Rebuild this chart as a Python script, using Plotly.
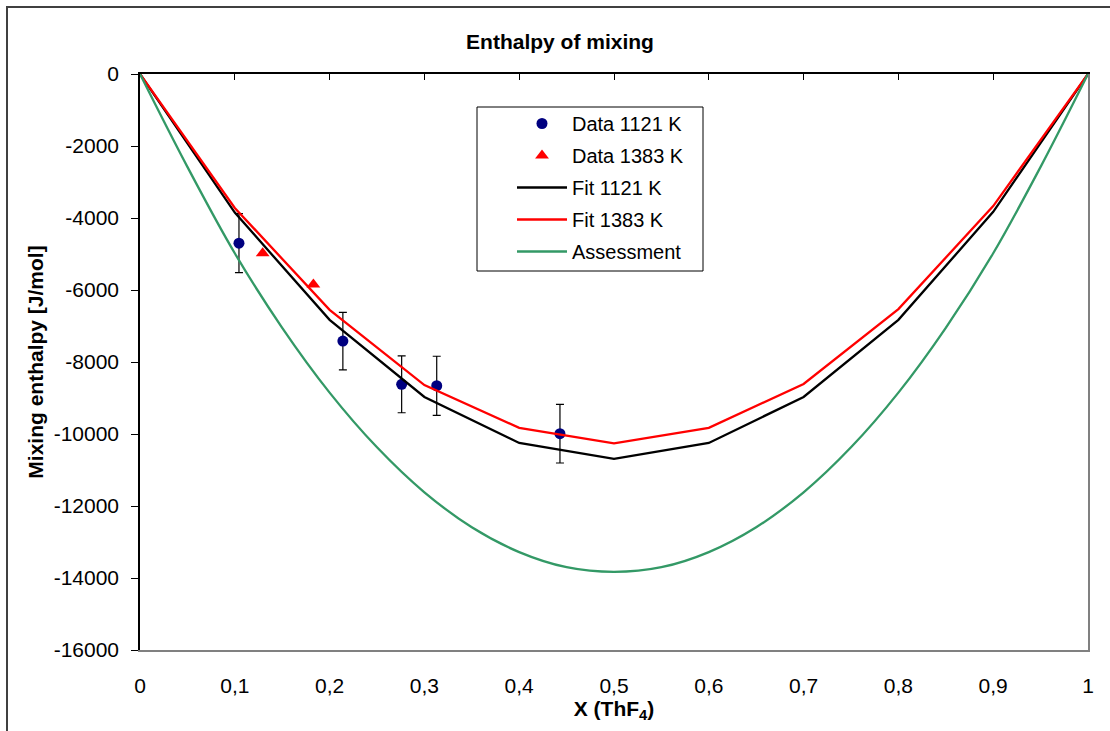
import plotly.graph_objects as go

# ---- data ----
x_fit = [0, 0.1, 0.2, 0.3, 0.4, 0.5, 0.6, 0.7, 0.8, 0.9, 1.0]
fit_1121 = [0, -3850, -6830, -8970, -10250, -10690, -10250, -8970, -6830, -3830, 0]
fit_1383 = [0, -3720, -6550, -8640, -9830, -10260, -9830, -8610, -6530, -3670, 0]

x_assess = [0, 0.05, 0.1, 0.15, 0.2, 0.25, 0.3, 0.35, 0.4, 0.45, 0.5,
            0.55, 0.6, 0.65, 0.7, 0.75, 0.8, 0.85, 0.9, 0.95, 1.0]
assess = [0, -2580, -4980, -7050, -8850, -10370, -11620, -12590, -13280, -13700, -13830,
          -13700, -13280, -12590, -11620, -10370, -8850, -7050, -4980, -2580, 0]

x_data_1121 = [0.1044, 0.214, 0.276, 0.313, 0.443]
y_data_1121 = [-4700, -7420, -8620, -8660, -9990]
err_1121 = [820, 800, 790, 820, 815]

x_data_1383 = [0.1294, 0.1829]
y_data_1383 = [-4980, -5850]

x_ticks = [0, 0.1, 0.2, 0.3, 0.4, 0.5, 0.6, 0.7, 0.8, 0.9, 1.0]
x_ticktext = ["0", "0,1", "0,2", "0,3", "0,4", "0,5", "0,6", "0,7", "0,8", "0,9", "1"]
y_ticks = [0, -2000, -4000, -6000, -8000, -10000, -12000, -14000, -16000]
y_ticktext = ["0", "-2000", "-4000", "-6000", "-8000", "-10000", "-12000", "-14000", "-16000"]

FONT = "Liberation Sans, Arial, sans-serif"

fig = go.Figure()
fig.add_trace(go.Scatter(
    x=x_data_1121, y=y_data_1121, mode="markers", name="Data 1121 K",
    marker=dict(color="#000080", size=11, symbol="circle"),
    error_y=dict(type="data", array=err_1121, color="black", thickness=1.2, width=4),
    legendgroup="a"))
fig.add_trace(go.Scatter(
    x=x_data_1383, y=y_data_1383, mode="markers", name="Data 1383 K",
    marker=dict(color="#ff0000", size=12, symbol="triangle-up"),
    legendgroup="b"))
fig.add_trace(go.Scatter(
    x=x_fit, y=fit_1121, mode="lines", name="Fit 1121 K",
    line=dict(color="black", width=2.3), legendgroup="c"))
fig.add_trace(go.Scatter(
    x=x_fit, y=fit_1383, mode="lines", name="Fit 1383 K",
    line=dict(color="#ff0000", width=2.3), legendgroup="d"))
fig.add_trace(go.Scatter(
    x=x_assess, y=assess, mode="lines", name="Assessment",
    line=dict(color="#339966", width=2.3, shape="spline"), legendgroup="e"))
# helper traces for the top (zero-line) axis and right border
fig.add_trace(go.Scatter(x=[0, 1], y=[0, 0], xaxis="x2", yaxis="y", mode="lines",
                         line=dict(width=0), showlegend=False, hoverinfo="skip"))
fig.add_trace(go.Scatter(x=[0, 1], y=[0, 0], xaxis="x", yaxis="y2", mode="lines",
                         line=dict(width=0), showlegend=False, hoverinfo="skip"))

fig.update_layout(
    width=1110, height=731,
    margin=dict(l=140, r=22, t=74, b=81),
    paper_bgcolor="white", plot_bgcolor="white",
    font=dict(family=FONT, size=21, color="black"),
    title=dict(text="<b>Enthalpy of mixing</b>", x=(560 - 140) / 948, xref="paper",
               xanchor="center", y=1 - 42 / 731, yanchor="middle",
               font=dict(size=21)),
    xaxis=dict(range=[0, 1], tickvals=x_ticks, ticktext=x_ticktext,
               showline=True, linecolor="#808080", linewidth=1.5,
               ticks="", showgrid=False, zeroline=False,
               ticklabelstandoff=16,
               title=dict(text="<b>X (ThF<sub>4</sub>)</b>", standoff=1,
                          font=dict(size=21))),
    xaxis2=dict(range=[0, 1], overlaying="x", side="top", tickvals=x_ticks,
                showticklabels=False, ticks="inside", ticklen=6, tickcolor="black",
                showline=True, linecolor="black", linewidth=1.5, showgrid=False,
                zeroline=False),
    yaxis=dict(range=[-16000, 0], tickvals=y_ticks, ticktext=y_ticktext,
               ticks="outside", ticklen=7,
               tickcolor="black", showline=True, linecolor="black", linewidth=1.5,
               showgrid=False, zeroline=False, ticklabelstandoff=8,
               title=dict(text="<b>Mixing enthalpy [J/mol]</b>", standoff=4,
                          font=dict(size=21))),
    yaxis2=dict(range=[-16000, 0], overlaying="y", side="right", showticklabels=False,
                ticks="", showline=True, linecolor="#808080", linewidth=1.5,
                showgrid=False, zeroline=False),
    legend=dict(x=(512 - 140) / 948, y=(650 - 104) / 576, xanchor="left", yanchor="top",
                borderwidth=0, bgcolor="rgba(0,0,0,0)",
                font=dict(size=20), traceorder="grouped", tracegroupgap=3,
                itemwidth=50),
    showlegend=True,
)

# legend frame
fig.add_shape(type="rect", xref="paper", yref="paper",
              x0=(477 - 140) / 948, x1=(703 - 140) / 948,
              y0=(650 - 271) / 576, y1=(650 - 107) / 576,
              line=dict(color="black", width=1), fillcolor="white", layer="below")

# outer chart frame
fig.add_shape(type="rect", xref="paper", yref="paper",
              x0=(7 - 140) / 948, x1=(1116 - 140) / 948,
              y0=(650 - 740) / 576, y1=(650 - 7) / 576,
              line=dict(color="#404040", width=2), layer="below")

fig.write_html("out.html")
